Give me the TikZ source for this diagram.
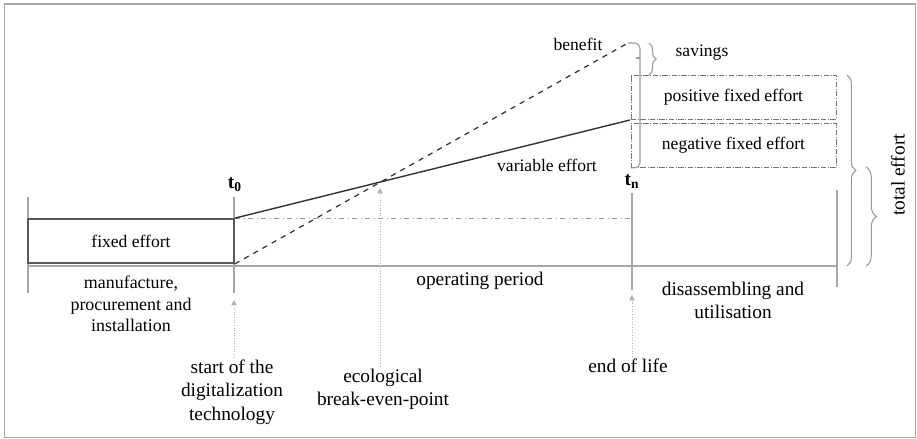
\documentclass[tikz,border=0pt]{standalone}
\usepackage{fontspec}
\setmainfont{Liberation Serif}
\usepackage{xcolor}
\usetikzlibrary{arrows.meta,positioning,calc,decorations.pathreplacing}

\begin{document}
\begin{tikzpicture}[
  x=0.02cm, y=-0.02cm,
  axisline/.style={gray!70, line width=0.6pt},
  fixbox/.style={draw=black!65, line width=1pt},
  upbox/.style={draw=black!55, densely dashdotted, line width=0.5pt},
  varline/.style={black!80, line width=0.8pt},
  benline/.style={black!80, dashed, line width=0.7pt},
  refline/.style={gray!80, dash dot, line width=0.5pt},
  hint/.style={gray!60, densely dotted, line width=0.5pt, -{Triangle[width=3pt,length=3pt]}},
  brc/.style={gray!80, line width=0.6pt, decorate},
  lab/.style={font=\fontsize{11}{13.2}\selectfont, align=center, inner sep=1pt},
  slab/.style={font=\fontsize{10}{12}\selectfont, align=center, inner sep=1pt}
]
\useasboundingbox (0,0) rectangle (917,439);
\draw[gray!70, line width=1pt] (4.5,4) rectangle (915.5,437.5);

% time axis
\coordinate (a0) at (28,266);
\coordinate (a1) at (837,266);
\coordinate (t0top) at (234,197);
\coordinate (t0bot) at (234,293);
\coordinate (tntop) at (632,193);
\coordinate (tnbot) at (632,290);
\coordinate (lfttop) at (28,197);
\coordinate (lftbot) at (28,293);
\coordinate (rgttop) at (837,190);
\coordinate (rgtbot) at (837,287);
\draw[axisline] (a0) -- (a1);
\draw[axisline] (lfttop) -- (lftbot);
\draw[axisline] (t0top) -- (t0bot);
\draw[axisline] (tntop) -- (tnbot);
\draw[axisline] (rgttop) -- (rgtbot);

\node[font=\bfseries\fontsize{11}{13}\selectfont, inner sep=1pt] (t0) at (235,185) {t\textsubscript{0}};
\node[font=\bfseries\fontsize{11}{13}\selectfont, inner sep=1pt] (tn) at (632,182) {t\textsubscript{n}};

% fixed effort
\node[fixbox, minimum width=206*0.02cm, minimum height=44*0.02cm, inner sep=0pt,
      font=\fontsize{10}{12}\selectfont] (fix) at (131,241) {fixed effort};

% effort lines
\coordinate (vend) at (630,120);
\coordinate (bend) at (628,43);
\coordinate (bep) at (377,183);
\draw[refline] (fix.north east) -- (fix.north east -| tntop);
\draw[varline] (fix.north east) -- (vend);
\draw[benline] (fix.south east) -- (bend);

% end of life boxes
\node[upbox, minimum width=205*0.02cm, minimum height=44*0.02cm, inner sep=0pt,
      font=\fontsize{10}{12}\selectfont] (pos) at (733.5,97) {positive fixed effort};
\node[upbox, minimum width=205*0.02cm, minimum height=44*0.02cm, inner sep=0pt,
      font=\fontsize{10}{12}\selectfont, below=2pt of pos] (neg) {negative fixed effort};

% braces
\draw[brc, rounded corners=3] (bend) -| (640,158) |- (neg.south west);
\draw[gray!80, line width=0.6pt] (640,58) -- (636,58);
\draw[brc, decoration={brace, amplitude=4pt}] (649,43) -- (649,75) coordinate (savb);
\draw[brc, decoration={brace, amplitude=5pt}] (847,75) -- (847,266);
\draw[brc, decoration={brace, amplitude=6pt}] (866,167) -- (866,266);

% labels
\node[slab] (benefit) at (578,44) {benefit};
\node[slab] (savings) at (702,53) {savings};
\node[slab] (var) at (547,165) {variable effort};
\node[lab, rotate=90] (total) at (898,175) {total effort};
\node[lab, font=\fontsize{10.2}{12.2}\selectfont] (manu) at (131,304) {manufacture,\\procurement and\\installation};
\node[lab] (oper) at (480,281) {operating period};
\node[lab] (dis) at (733,300) {disassembling and\\utilisation};
\node[lab, font=\fontsize{11}{13.4}\selectfont] (start) at (232,392) {start of the\\digitalization\\technology};
\node[lab] (eco) at (383,389) {ecological\\break-even-point};
\node[lab] (eol) at (628,366) {end of life};

% pointers
\coordinate (starttip) at (234,300);
\coordinate (ecotip) at (380,188);
\coordinate (eoltip) at (632,295);
\draw[hint] (start.north -| starttip) -- (starttip);
\draw[hint] (eco.north -| ecotip) -- (ecotip);
\draw[hint] (eol.north -| eoltip) -- (eoltip);
\end{tikzpicture}
\end{document}
